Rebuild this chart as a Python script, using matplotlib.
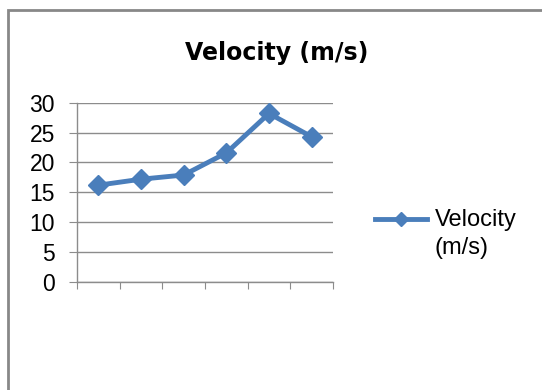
import numpy as np
import matplotlib.pyplot as plt
from matplotlib.patches import Rectangle
from matplotlib.lines import Line2D

# velocity readings per trial
velocity = [16.2, 17.2, 17.9, 21.6, 28.2, 24.3]
y_ticks = [0, 5, 10, 15, 20, 25, 30]

blue = "#4a7ebb"
grey = "#8c8c8c"

fig = plt.figure(figsize=(5.42, 3.9), dpi=100)
fig.patches.append(Rectangle((8 / 542, -0.1), 1.1, 1.1 - 10 / 390, transform=fig.transFigure,
                             fill=False, edgecolor="#888888", linewidth=2))

ax = fig.add_axes([77 / 542, (390 - 282) / 390, (333 - 77) / 542, (282 - 102.7) / 390])
x = np.arange(len(velocity)) + 0.5
ax.plot(x, velocity, color=blue, linewidth=3.5, marker="D", markersize=10.5,
        markerfacecolor=blue, markeredgecolor=blue)

ax.set_xlim(0, len(velocity))
ax.set_ylim(0, 30)
ax.set_yticks(y_ticks)
ax.set_xticks(np.arange(len(velocity) + 1))
ax.set_xticklabels([])
ax.grid(axis="y", color=grey, linewidth=1)
ax.set_axisbelow(True)
for s in ["top", "right"]:
    ax.spines[s].set_visible(False)
for s in ["left", "bottom"]:
    ax.spines[s].set_color(grey)
    ax.spines[s].set_linewidth(1)
ax.tick_params(axis="y", length=6, color=grey, labelsize=16.5, pad=10)
ax.tick_params(axis="x", length=5, color=grey)
for lbl in ax.get_yticklabels():
    lbl.set_fontfamily("Liberation Sans")

fig.text(277 / 542, 1 - 53 / 390, "Velocity (m/s)", ha="center", va="center",
         fontsize=17, fontweight="bold", family="DejaVu Sans")

# legend
fig.add_artist(Line2D([375 / 542, 427 / 542], [1 - 219 / 390, 1 - 219 / 390],
                      transform=fig.transFigure, color=blue, linewidth=3.5))
fig.add_artist(Line2D([401 / 542], [1 - 219 / 390], transform=fig.transFigure,
                      color=blue, marker="D", markersize=7))
fig.text(435 / 542, 1 - 220 / 390, "Velocity", ha="left", va="center",
         fontsize=17, family="Liberation Sans")
fig.text(435 / 542, 1 - 248 / 390, "(m/s)", ha="left", va="center",
         fontsize=17, family="Liberation Sans")

fig.savefig("out.png", dpi=100)
